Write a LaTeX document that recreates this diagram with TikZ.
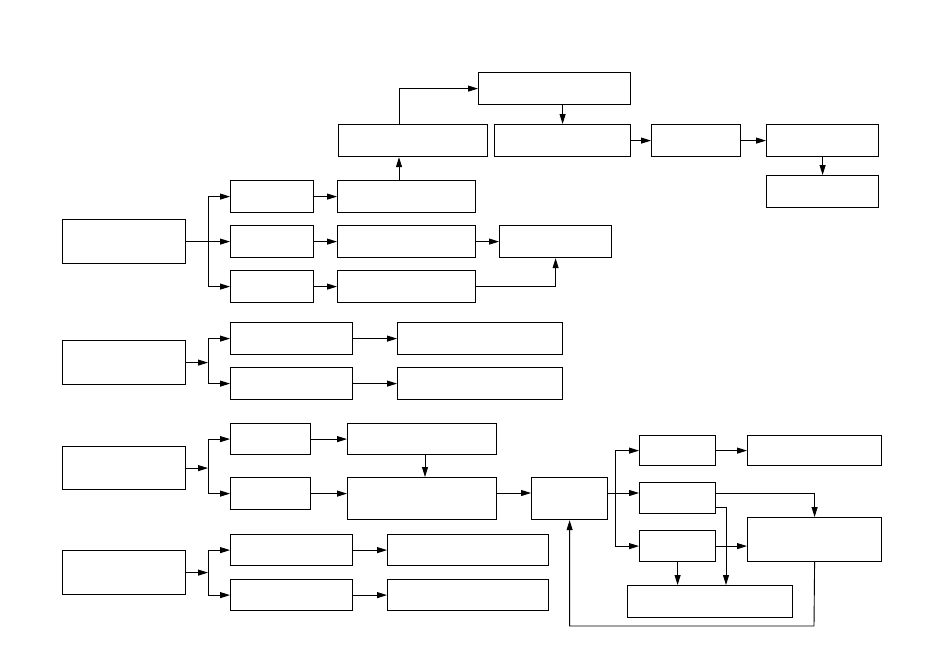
\documentclass[tikz,border=0pt]{standalone}
\usetikzlibrary{arrows.meta}
\begin{document}
\begin{tikzpicture}[x=1pt,y=-1pt,
  box/.style={draw=black,line width=1.2pt,rectangle,inner sep=0pt,anchor=north west,fill=white},
  arr/.style={draw=black,line width=0.9pt,-{Triangle[length=10pt,width=6pt]}},
  ln/.style={draw=black,line width=0.9pt}]
\useasboundingbox[fill=white] (0,0) rectangle (950,659);
% boxes
\node[box,minimum width=152pt,minimum height=32pt] (A) at (478,72) {};
\node[box,minimum width=149pt,minimum height=32pt] (B) at (338,124) {};
\node[box,minimum width=136pt,minimum height=32pt] (C) at (494,124) {};
\node[box,minimum width=89pt,minimum height=32pt] (D) at (651,124) {};
\node[box,minimum width=112pt,minimum height=32pt] (E) at (766,124) {};
\node[box,minimum width=112pt,minimum height=32pt] (F) at (766,175) {};
\node[box,minimum width=123pt,minimum height=44pt] (G) at (62,219) {};
\node[box,minimum width=83pt,minimum height=32pt] (H1) at (230,180) {};
\node[box,minimum width=83pt,minimum height=32pt] (H2) at (230,225) {};
\node[box,minimum width=83pt,minimum height=32pt] (H3) at (230,270) {};
\node[box,minimum width=138pt,minimum height=32pt] (I1) at (337,180) {};
\node[box,minimum width=138pt,minimum height=32pt] (I2) at (337,225) {};
\node[box,minimum width=138pt,minimum height=32pt] (I3) at (337,270) {};
\node[box,minimum width=112pt,minimum height=32pt] (J) at (499,225) {};
\node[box,minimum width=123pt,minimum height=44pt] (K) at (62,340) {};
\node[box,minimum width=122pt,minimum height=32pt] (L1) at (230,322) {};
\node[box,minimum width=122pt,minimum height=32pt] (L2) at (230,367) {};
\node[box,minimum width=165pt,minimum height=32pt] (M1) at (397,322) {};
\node[box,minimum width=165pt,minimum height=32pt] (M2) at (397,367) {};
\node[box,minimum width=123pt,minimum height=43pt] (N) at (62,446) {};
\node[box,minimum width=80pt,minimum height=31pt] (O1) at (230,423) {};
\node[box,minimum width=80pt,minimum height=32pt] (O2) at (230,477) {};
\node[box,minimum width=149pt,minimum height=31pt] (P1) at (347,423) {};
\node[box,minimum width=149pt,minimum height=42pt] (P2) at (347,477) {};
\node[box,minimum width=76pt,minimum height=42pt] (Q) at (531,477) {};
\node[box,minimum width=123pt,minimum height=44pt] (R) at (62,550) {};
\node[box,minimum width=122pt,minimum height=31pt] (S1) at (230,534) {};
\node[box,minimum width=122pt,minimum height=31pt] (S2) at (230,579) {};
\node[box,minimum width=161pt,minimum height=31pt] (T1) at (387,534) {};
\node[box,minimum width=161pt,minimum height=31pt] (T2) at (387,579) {};
\node[box,minimum width=76pt,minimum height=30pt] (U1) at (639,435) {};
\node[box,minimum width=76pt,minimum height=31pt] (U2) at (639,482) {};
\node[box,minimum width=76pt,minimum height=31pt] (U3) at (639,530) {};
\node[box,minimum width=134pt,minimum height=30pt] (V1) at (747,435) {};
\node[box,minimum width=134pt,minimum height=44pt] (W) at (747,517) {};
\node[box,minimum width=165pt,minimum height=32pt] (X) at (627,585) {};
% helper coordinates
\coordinate (f1) at (208,241);
\coordinate (fx) at (208,0);
\coordinate (ib) at (399,180);
\coordinate (pb) at (425,454);
\coordinate (yq) at (531,493);
\coordinate (f4) at (615,493);
\coordinate (ux) at (715,507);
\coordinate (uxd) at (726,507);
\coordinate (wb) at (814,626);
\coordinate (f2) at (fx |- K.east);
\coordinate (f3) at (fx |- N.east);
\coordinate (f5) at (fx |- R.east);
% group 1
\draw[arr] (G.east) -- (H2.west);
\draw[arr] (f1) |- (H1.west);
\draw[arr] (f1) |- (H3.west);
\draw[arr] (H1.east) -- (I1.west);
\draw[arr] (H2.east) -- (I2.west);
\draw[arr] (H3.east) -- (I3.west);
\draw[arr] (I2.east) -- (J.west);
\draw[arr] (I3.east) -| (J.south);
\draw[arr] (ib) -- (ib |- B.south);
\draw[arr] (ib |- B.north) |- (A.west);
\draw[arr] (C.north |- A.south) -- (C.north);
\draw[arr] (C.east) -- (D.west);
\draw[arr] (D.east) -- (E.west);
\draw[arr] (E.south) -- (F.north);
% group 2
\draw[arr] (K.east) -- (f2);
\draw[arr] (f2) |- (L1.west);
\draw[arr] (f2) |- (L2.west);
\draw[arr] (L1.east) -- (M1.west);
\draw[arr] (L2.east) -- (M2.west);
% group 3
\draw[arr] (N.east) -- (f3);
\draw[arr] (f3) |- (O1.west);
\draw[arr] (f3) |- (O2.west);
\draw[arr] (O1.east) -- (P1.west);
\draw[arr] (O2.east) -- (O2.east -| P2.west);
\draw[arr] (pb) -- (pb |- P2.north);
\draw[arr] (P2.east |- yq) -- (yq);
\draw[arr] (Q.east |- f4) -- (U2.west |- f4);
\draw[arr] (f4) |- (U1.west);
\draw[arr] (f4) |- (U3.west);
\draw[arr] (U1.east) -- (V1.west);
\draw[arr] (U2.east |- f4) -| (W.north);
\draw[arr] (ux) -- (uxd) -- (uxd |- X.north);
\draw[arr] (U3.east) -- (W.west |- U3.east);
\draw[arr] (U3.south) -- (U3.south |- X.north);
\draw[arr] (W.south) -- (wb) -| (Q.south);
% group 4
\draw[arr] (R.east) -- (f5);
\draw[arr] (f5) |- (S1.west);
\draw[arr] (f5) |- (S2.west);
\draw[arr] (S1.east) -- (T1.west);
\draw[arr] (S2.east) -- (T2.west);
\end{tikzpicture}
\end{document}
